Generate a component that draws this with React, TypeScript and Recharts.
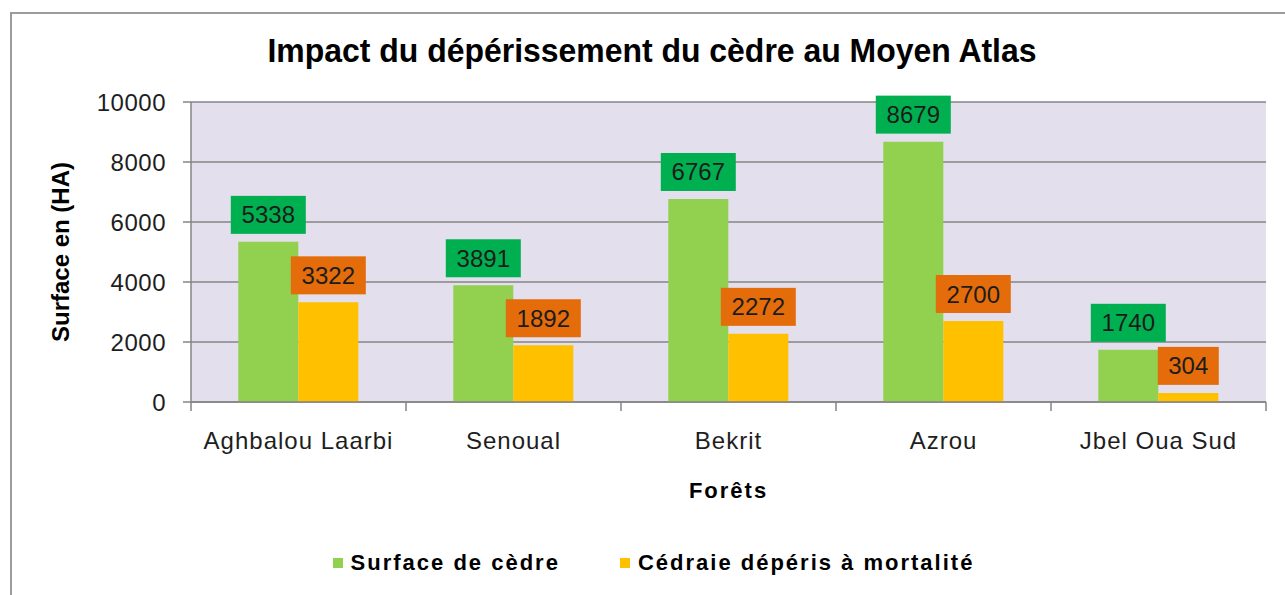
import React from "react";
import { BarChart, Bar, XAxis, YAxis, CartesianGrid, Legend, LabelList } from "recharts";

const title = "Impact du dépérissement du cèdre au Moyen Atlas";
const categories = ["Aghbalou Laarbi", "Senoual", "Bekrit", "Azrou", "Jbel Oua Sud"];
const surfaceCedre = [5338, 3891, 6767, 8679, 1740];
const cedraieDeperis = [3322, 1892, 2272, 2700, 304];
const yTicks = [0, 2000, 4000, 6000, 8000, 10000];
const seriesNames = ["Surface de cèdre", "Cédraie dépéris à mortalité"];

const data = categories.map((name, i) => ({
  name,
  surface: surfaceCedre[i],
  deperis: cedraieDeperis[i],
}));

const FONT = '"Liberation Sans", Arial, sans-serif';
const GRID = "#858585";
const TICK_GAP = 30;

const makeLabel = (boxFill: string) => (props: any) => {
  const { x, y, width, value } = props;
  const txt = String(value);
  const w = 14 * txt.length + 19;
  const h = 38;
  const cx = x + width / 2;
  const bottom = y - 8;
  return (
    <g>
      <rect x={cx - w / 2} y={bottom - h} width={w} height={h} fill={boxFill} />
      <text
        x={cx}
        y={bottom - h / 2}
        textAnchor="middle"
        dominantBaseline="central"
        fontSize={24}
        fontFamily={FONT}
        fill="#1c1c1c"
      >
        {txt}
      </text>
    </g>
  );
};

// category tick: label under the middle, tick marks on the band edges (Excel style)
const CatTick = (props: any) => {
  const { x, y, payload, index } = props;
  const half = payload?.offset ?? 0;
  const axisY = y - TICK_GAP;
  return (
    <g>
      <line x1={x - half} x2={x - half} y1={axisY} y2={axisY + 9} stroke={GRID} strokeWidth={1.5} />
      {index === categories.length - 1 && (
        <line x1={x + half} x2={x + half} y1={axisY} y2={axisY + 9} stroke={GRID} strokeWidth={1.5} />
      )}
      <text
        x={x}
        y={y}
        dy="0.71em"
        textAnchor="middle"
        fontSize={24}
        fontFamily={FONT}
        fill="#1e1e1e"
        letterSpacing={1}
      >
        {payload.value}
      </text>
    </g>
  );
};

const LegendContent = () => (
  <div
    style={{
      height: 66,
      boxSizing: "border-box",
      paddingTop: 36,
      paddingLeft: 31,
      display: "flex",
      justifyContent: "center",
      alignItems: "center",
      fontFamily: FONT,
      fontWeight: "bold",
      fontSize: 22,
      letterSpacing: 2,
      color: "#000",
    }}
  >
    {seriesNames.map((n, i) => (
      <span key={n} style={{ display: "flex", alignItems: "center", marginLeft: i ? 60 : 0 }}>
        <span
          style={{
            width: 10,
            height: 10,
            background: i ? "#FFC000" : "#92D050",
            marginRight: 8,
            display: "inline-block",
          }}
        />
        {n}
      </span>
    ))}
  </div>
);

export default function App() {
  return (
    <div
      style={{
        position: "absolute",
        left: 0,
        top: 0,
        width: 1285,
        height: 595,
        overflow: "hidden",
        background: "#fff",
      }}
    >
      <div
        style={{
          position: "absolute",
          left: 10,
          top: 12,
          width: 1300,
          height: 620,
          border: "2px solid #9c9c9c",
        }}
      />
      <BarChart
        width={1285}
        height={595}
        data={data}
        margin={{ top: 102, right: 19, bottom: 17, left: 10 }}
        barCategoryGap="22%"
        barGap={0}
        style={{ position: "absolute", left: 0, top: 0, fontFamily: FONT }}
      >
        <text
          x={652}
          y={62}
          textAnchor="middle"
          fontSize={33}
          fontWeight="bold"
          fontFamily={FONT}
          textLength={769}
          lengthAdjust="spacingAndGlyphs"
          fill="#000"
        >
          {title}
        </text>
        <CartesianGrid vertical={false} stroke={GRID} strokeWidth={1.5} fill="#E4DFEC" />
        <XAxis
          dataKey="name"
          height={110}
          axisLine={{ stroke: GRID, strokeWidth: 1.5 }}
          tickLine={false}
          tickSize={0}
          tickMargin={TICK_GAP}
          tick={<CatTick />}
          label={{
            value: "Forêts",
            position: "insideBottom",
            offset: 14,
            style: { fontSize: 22, fontWeight: "bold", fill: "#000", letterSpacing: 2 },
          }}
        />
        <YAxis
          width={181}
          domain={[0, 10000]}
          ticks={yTicks}
          interval={0}
          axisLine={{ stroke: GRID, strokeWidth: 1.5 }}
          tickLine={{ stroke: GRID, strokeWidth: 1.5 }}
          tickSize={8}
          tickMargin={17}
          tick={{ fontSize: 24, fill: "#1e1e1e", letterSpacing: 0.5 }}
          label={{
            value: "Surface en (HA)",
            angle: -90,
            position: "insideLeft",
            offset: 50,
            style: { textAnchor: "middle", fontSize: 24, fontWeight: "bold", fill: "#000" },
          }}
        />
        <Legend verticalAlign="bottom" content={<LegendContent />} />
        <Bar dataKey="surface" name={seriesNames[0]} fill="#92D050" isAnimationActive={false}>
          <LabelList dataKey="surface" content={makeLabel("#00B050")} />
        </Bar>
        <Bar dataKey="deperis" name={seriesNames[1]} fill="#FFC000" isAnimationActive={false}>
          <LabelList dataKey="deperis" content={makeLabel("#E46C0A")} />
        </Bar>
      </BarChart>
    </div>
  );
}
